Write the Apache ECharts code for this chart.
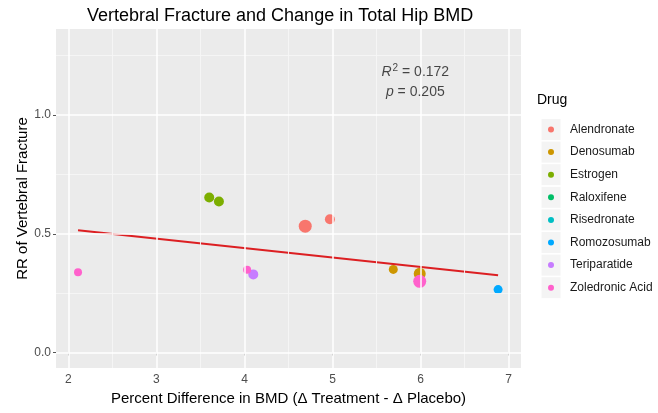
<!DOCTYPE html>
<html>
<head>
<meta charset="utf-8">
<script src="https://cdn.jsdelivr.net/npm/echarts@6/dist/echarts.min.js"></script>
<style>
html,body{margin:0;padding:0;background:#fff;}
#chart{width:658px;height:413px;}
</style>
</head>
<body>
<div id="chart"></div>
<script>
// ---- data ----
const drugs = ["Alendronate","Denosumab","Estrogen","Raloxifene","Risedronate","Romozosumab","Teriparatide","Zoledronic Acid"];
const drugColors = ["#F8766D","#CD9600","#7CAE00","#00BE67","#00BFC4","#00A9FF","#C77CFF","#FF61CC"];
const pointDrug = ["Zoledronic Acid","Estrogen","Estrogen","Alendronate","Alendronate","Zoledronic Acid","Teriparatide","Denosumab","Denosumab","Zoledronic Acid","Romozosumab"];
const pointX = [2.11, 3.60, 3.71, 4.69, 4.97, 4.03, 4.10, 5.69, 5.99, 5.99, 6.88];
const pointY = [0.338, 0.653, 0.636, 0.532, 0.561, 0.349, 0.329, 0.350, 0.332, 0.300, 0.265];
const pointSize = [8, 10, 10, 13, 10, 8, 10, 9, 12, 13, 9];
const fitX = [2.11, 6.88];
const fitY = [0.515, 0.325];
const xTicks = [2, 3, 4, 5, 6, 7];
const xMinor = [2.5, 3.5, 4.5, 5.5, 6.5];
const yTicks = [0, 0.5, 1.0];
const yMinor = [0.25, 0.75, 1.25];
const annotR2 = "0.172";
const annotP = "0.205";
const annotX = 5.94;
const annotY = [1.181, 1.097];
const xRange = [1.86, 7.14];
const yRange = [-0.065, 1.362];

// ---- chart ----
const chart = echarts.init(document.getElementById('chart'), null, {renderer: 'canvas'});
const FONT = "Liberation Sans, Arial, sans-serif";

const pointSeries = drugs.map((d, i) => ({
  name: d,
  type: 'scatter',
  z: 3,
  itemStyle: {color: drugColors[i], opacity: 1},
  symbolSize: v => v[2],
  data: pointX.map((x, k) => [x, pointY[k], pointSize[k], pointDrug[k]]).filter(p => p[3] === d)
}));

const gridMajor = {color: '#FFFFFF', width: 1.5, type: 'solid'};
const gridMinor = {color: '#F6F6F6', width: 0.9, type: 'solid'};

const vLine = (v, st) => [{coord: [v, yRange[0]], lineStyle: st}, {coord: [v, yRange[1]]}];
const hLine = (v, st) => [{coord: [xRange[0], v], lineStyle: st}, {coord: [xRange[1], v]}];

const gridSeries = {
  type: 'line',
  name: '__grid',
  data: [],
  z: 1,
  silent: true,
  markLine: {
    silent: true,
    symbol: ['none', 'none'],
    label: {show: false},
    animation: false,
    data: [
      ...xMinor.map(v => vLine(v, gridMinor)),
      ...yMinor.map(v => hLine(v, gridMinor)),
      ...xTicks.map(v => vLine(v, gridMajor)),
      ...yTicks.map(v => hLine(v, gridMajor))
    ]
  }
};

const fitSeries = {
  type: 'line',
  name: '__fit',
  z: 4,
  silent: true,
  symbol: 'none',
  lineStyle: {color: '#DC1F22', width: 2},
  data: fitX.map((x, i) => [x, fitY[i]])
};

const annotSeries = {
  type: 'scatter',
  name: '__annot',
  z: 5,
  silent: true,
  symbolSize: 0,
  data: [[annotX, annotY[0], 'r'], [annotX, annotY[1], 'p']],
  label: {
    show: true,
    position: 'inside',
    color: '#1a1a1a',
    fontFamily: FONT,
    fontSize: 14,
    formatter: p => p.data[2] === 'r'
      ? '{i|R}{s|2}{n| = ' + annotR2 + '}'
      : '{i|p}{n| = ' + annotP + '}',
    rich: {
      i: {fontStyle: 'italic', fontSize: 14, fontFamily: FONT, color: '#1a1a1a', lineHeight: 17},
      s: {fontSize: 10, fontFamily: FONT, color: '#1a1a1a', verticalAlign: 'top', lineHeight: 17, padding: [0, 0, 7, 1]},
      n: {fontSize: 14, fontFamily: FONT, color: '#1a1a1a', lineHeight: 17}
    }
  }
};

// legend key backgrounds
const legendTop = 122.5, legendStep = 22.6;
const keyRects = drugs.map((d, i) => ({
  type: 'rect',
  z: -1,
  shape: {x: 541, y: legendTop + i * legendStep - 4, width: 20, height: 22},
  style: {fill: '#F4F4F4', stroke: '#FFFFFF', lineWidth: 1}
}));

chart.setOption({
  animation: false,
  backgroundColor: '#FFFFFF',
  textStyle: {fontFamily: FONT},
  title: [
    {text: 'Vertebral Fracture and Change in Total Hip BMD', left: 87, top: 7, padding: 0,
     textStyle: {fontFamily: FONT, fontSize: 18, fontWeight: 'normal', color: '#000000'}},
    {text: 'Drug', left: 537, top: 93, padding: 0,
     textStyle: {fontFamily: FONT, fontSize: 14, fontWeight: 'normal', color: '#000000'}}
  ],
  legend: {
    data: drugs,
    orient: 'vertical',
    left: 548,
    top: legendTop,
    padding: 0,
    icon: 'circle',
    itemWidth: 6,
    itemHeight: 6,
    itemGap: legendStep - 14,
    selectedMode: false,
    textStyle: {fontFamily: FONT, fontSize: 12, color: '#1a1a1a', lineHeight: 14, padding: [0, 0, 0, 11]}
  },
  graphic: keyRects,
  grid: {left: 56, right: 137, top: 29, bottom: 45, containLabel: false, show: true, backgroundColor: '#EBEBEB', borderWidth: 0},
  xAxis: {
    type: 'value',
    min: xRange[0],
    max: xRange[1],
    name: 'Percent Difference in BMD (\u0394 Treatment - \u0394 Placebo)',
    nameLocation: 'middle',
    nameGap: 23,
    nameMoveOverlap: false,
    nameTextStyle: {fontFamily: FONT, fontSize: 15, color: '#000000'},
    axisLine: {show: false},
    splitLine: {show: false},
    axisTick: {show: true, customValues: xTicks, length: 3, lineStyle: {color: '#555555', width: 1}},
    axisLabel: {show: true, customValues: xTicks, margin: 6, fontFamily: FONT, fontSize: 12, color: '#4D4D4D',
      formatter: v => String(v)}
  },
  yAxis: {
    type: 'value',
    min: yRange[0],
    max: yRange[1],
    name: 'RR of Vertebral Fracture',
    nameLocation: 'middle',
    nameGap: 26,
    nameMoveOverlap: false,
    nameRotate: 90,
    nameTextStyle: {fontFamily: FONT, fontSize: 15, color: '#000000'},
    axisLine: {show: false},
    splitLine: {show: false},
    axisTick: {show: true, customValues: yTicks, length: 3, lineStyle: {color: '#555555', width: 1}},
    axisLabel: {show: true, customValues: yTicks, margin: 5, fontFamily: FONT, fontSize: 12, color: '#4D4D4D',
      formatter: v => Number(v).toFixed(1)}
  },
  series: [gridSeries, ...pointSeries, fitSeries, annotSeries]
});
</script>
</body>
</html>
